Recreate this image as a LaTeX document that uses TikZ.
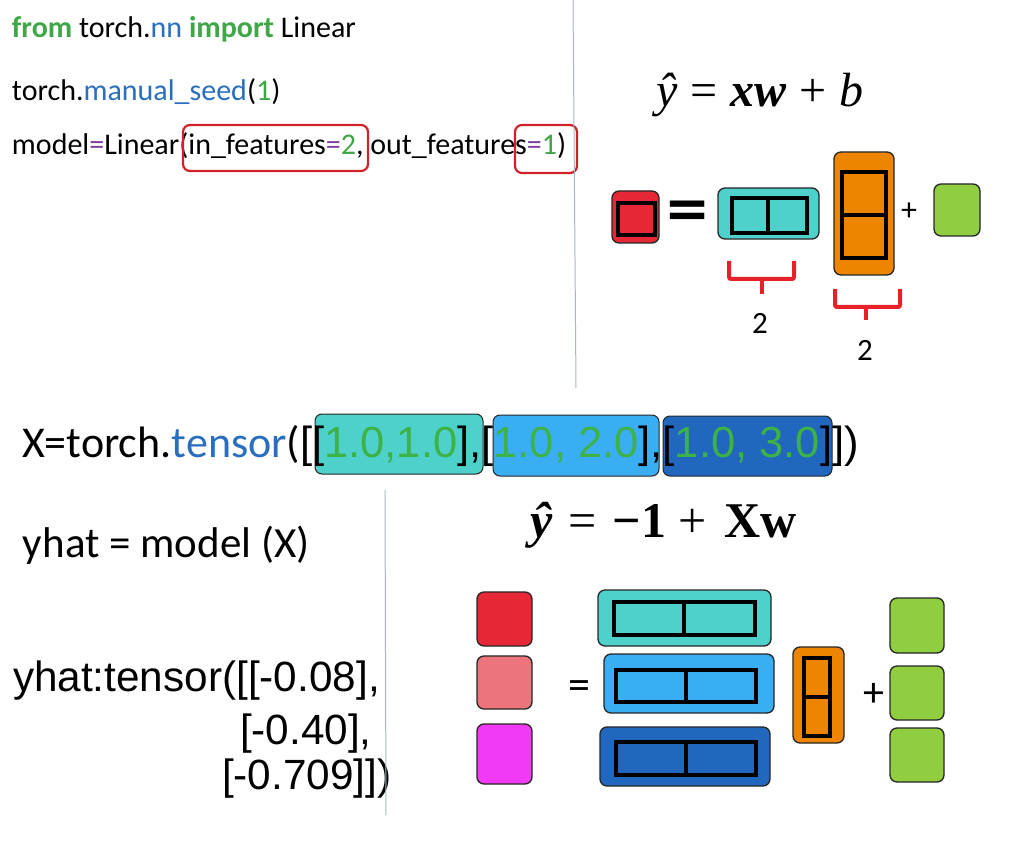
\documentclass[tikz,border=0pt]{standalone}
\usepackage{amsmath,bm}
\usepackage[no-math]{fontspec}
\setmainfont{Carlito}
\newfontfamily\arialf{Liberation Sans}
\newfontfamily\dejavuf{DejaVu Sans}
\newfontfamily\seriff{Liberation Serif}
\definecolor{codegreen}{HTML}{3FA748}
\definecolor{codeblue}{HTML}{2A6FBE}
\definecolor{codepurple}{HTML}{7E3E9E}
\definecolor{hlred}{HTML}{D02228}
\definecolor{teal1}{HTML}{4ED1CB}
\definecolor{blue1}{HTML}{3AAEF2}
\definecolor{blue2}{HTML}{2167BE}
\definecolor{red1}{HTML}{E62735}
\definecolor{pink1}{HTML}{EC757B}
\definecolor{mag1}{HTML}{F03AF5}
\definecolor{orange1}{HTML}{EE8500}
\definecolor{green1}{HTML}{90CD40}
\definecolor{bracecol}{HTML}{E8202A}
\definecolor{rulecol}{HTML}{A8B6CC}
\definecolor{numgreen}{HTML}{3DB247}
\begin{document}
\begin{tikzpicture}[x=1pt,y=-1pt,
  txt/.style={inner sep=0pt, outer sep=0pt, anchor=base west},
  codefont/.style={font=\fontsize{30}{36}\selectfont},
  bigcal/.style={font=\fontsize{44}{50}\selectfont},
  bigarial/.style={font=\arialf\fontsize{43.5}{50}\selectfont},
  yarial/.style={font=\arialf\fontsize{42.3}{50}\selectfont},
  eqfont/.style={font=\seriff\fontsize{48}{52}\selectfont},
  eqfontb/.style={font=\seriff\fontsize{50}{54}\selectfont},
  cell/.style={draw=black!85, line width=1.3pt, rounded corners=7pt},
  innerbox/.style={draw=black, line width=3.2pt},
  hl/.style={draw=hlred, line width=2.2pt, rounded corners=7pt},
  bracestyle/.style={draw=bracecol, line width=4pt, rounded corners=2pt},
  sepline/.style={draw=rulecol, line width=1pt}]
\useasboundingbox (0,0) rectangle (1026,842);
\fill[white] (0,0) rectangle (1026,842);

% ---------- top left code ----------
\node[txt,codefont] (l1) at (12,38) {\textcolor{codegreen}{\textbf{from}} torch.\textcolor{codeblue}{nn} \textcolor{codegreen}{\textbf{import}} Linear};
\node[txt,codefont] (l2) at (12,101) {torch.\textcolor{codeblue}{manual\_seed}(\textcolor{codegreen}{1})};
\node[txt,codefont] (l3) at (12,155) {model\textcolor{codepurple}{=}Linear(in\_features\textcolor{codepurple}{=}\textcolor{codegreen}{2}, out\_features\textcolor{codepurple}{=}\textcolor{codegreen}{1})};
\draw[hl] (183,125) rectangle (368,171);
\draw[hl] (515,125) rectangle (577,173);
\draw[sepline] (573,0) -- (576,388);

% ---------- top right ----------
\node[txt,eqfont] (eq1) at (656,107) {\textit{ŷ}\hspace{13pt}=\hspace{13pt}\textbf{\textit{xw}}\hspace{13pt}+\hspace{13pt}\textit{b}};
\draw[cell, fill=red1] (612,191) rectangle (659,243);
\draw[innerbox] (618,203) rectangle (655,235);
\node[inner sep=0pt] (eqa) at (688,214) {\dejavuf\bfseries\fontsize{55}{60}\selectfont =};
\draw[cell, fill=teal1] (718,188) rectangle (819,239);
\draw[innerbox] (732,198) rectangle (807,233);
\draw[innerbox] (768,198) -- (768,233);
\draw[cell, fill=orange1] (834,152) rectangle (894,275);
\draw[innerbox] (842,172) rectangle (886,258);
\draw[innerbox] (842,215) -- (886,215);
\node[inner sep=0pt] (pa) at (909,212) {\fontsize{32}{36}\selectfont +};
\draw[cell, fill=green1] (934,184) rectangle (980,236);
\draw[bracestyle] (729,261) -- (729,279) -- (794,279) -- (794,261);
\draw[bracestyle] (762,279) -- (762,294);
\node (two1) at (760,323) {\fontsize{31}{34}\selectfont 2};
\draw[bracestyle] (835,289) -- (835,307) -- (900,307) -- (900,289);
\draw[bracestyle] (866,307) -- (866,320);
\node (two2) at (865,350) {\fontsize{31}{34}\selectfont 2};

% ---------- X line ----------
\draw[cell, line width=1pt, fill=teal1] (315,414) rectangle (483,474);
\draw[cell, line width=1pt, fill=blue1] (493,415) rectangle (659,476);
\draw[cell, line width=1pt, fill=blue2] (663,416) rectangle (832,476);
\node[txt,bigcal] (xa) at (22,457) {X=torch.\textcolor{codeblue}{tensor}(};
\node[txt,bigarial] (xb) at (xa.base east) {[[\textcolor{numgreen}{1.0,1.0}],[\textcolor{numgreen}{1.0, 2.0}],[\textcolor{numgreen}{1.0, 3.0}]])};

% ---------- bottom left ----------
\node[txt,bigcal,font=\fontsize{43}{50}\selectfont] (yh) at (23,557) {yhat = model (X)};
\node[txt,yarial] (t1) at (13,691) {yhat:tensor([[-0.08],};
\node[txt,yarial] (t2) at (240,744) {[-0.40],};
\node[txt,yarial] (t3) at (222,789) {[-0.709]])};
\draw[sepline] (385,490) -- (386,815);

% ---------- bottom right ----------
\node[txt,eqfontb] (eq2) at (530,537) {\textbf{\textit{ŷ}}\hspace{16pt}=\hspace{16pt}\textbf{−1}\hspace{12pt}+\hspace{18pt}\textbf{Xw}};
\draw[cell, fill=red1] (477,592) rectangle (532,646);
\draw[cell, fill=pink1] (477,656) rectangle (532,709);
\draw[cell, fill=mag1] (477,724) rectangle (532,784);
\node[inner sep=0pt] (eqb) at (579,690) {\fontsize{44}{48}\selectfont =};
\draw[cell, fill=teal1] (598,590) rectangle (771,646);
\draw[innerbox] (614,602) rectangle (755,635);
\draw[innerbox] (684,602) -- (684,635);
\draw[cell, fill=blue1] (604,654) rectangle (774,713);
\draw[innerbox] (616,670) rectangle (756,702);
\draw[innerbox] (686,670) -- (686,702);
\draw[cell, fill=blue2] (600,727) rectangle (770,786);
\draw[innerbox] (616,742) rectangle (756,775);
\draw[innerbox] (686,742) -- (686,775);
\draw[cell, fill=orange1] (793,647) rectangle (844,743);
\draw[innerbox] (804,658) rectangle (830,736);
\draw[innerbox] (804,697) -- (830,697);
\node[inner sep=0pt] (pb) at (874,695) {\fontsize{42}{46}\selectfont +};
\draw[cell, fill=green1] (890,598) rectangle (944,653);
\draw[cell, fill=green1] (890,666) rectangle (944,720);
\draw[cell, fill=green1] (890,728) rectangle (944,782);
\end{tikzpicture}
\end{document}
